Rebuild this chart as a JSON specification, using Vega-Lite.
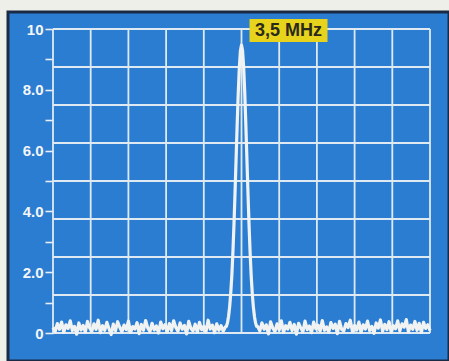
{
  "$schema": "https://vega.github.io/schema/vega-lite/v6.json",
  "autosize": "none",
  "width": 441,
  "height": 349,
  "padding": {"left": 8, "top": 12, "right": 0, "bottom": 0},
  "background": "#efefea",
  "config": {
    "view": {"fill": "#2b7dd1", "stroke": "#1b2a44", "strokeWidth": 3}
  },
  "datasets": {
    "vgrid": [{"x": 0, "y": 0, "y2": 10}, {"x": 0.7, "y": 0, "y2": 10}, {"x": 1.4, "y": 0, "y2": 10}, {"x": 2.1, "y": 0, "y2": 10}, {"x": 2.8, "y": 0, "y2": 10}, {"x": 3.5, "y": 0, "y2": 10}, {"x": 4.2, "y": 0, "y2": 10}, {"x": 4.9, "y": 0, "y2": 10}, {"x": 5.6, "y": 0, "y2": 10}, {"x": 6.3, "y": 0, "y2": 10}, {"x": 7, "y": 0, "y2": 10}],
    "hgrid": [{"y": 0, "x": 0, "x2": 7}, {"y": 1.25, "x": 0, "x2": 7}, {"y": 2.5, "x": 0, "x2": 7}, {"y": 3.75, "x": 0, "x2": 7}, {"y": 5, "x": 0, "x2": 7}, {"y": 6.25, "x": 0, "x2": 7}, {"y": 7.5, "x": 0, "x2": 7}, {"y": 8.75, "x": 0, "x2": 7}, {"y": 10, "x": 0, "x2": 7}],
    "label": [{"x": 3.5, "y": 10, "label": "3,5 MHz"}],
    "signal": [
      {"x": 0.00, "y": 0.18}, {"x": 0.04, "y": 0.05}, {"x": 0.08, "y": 0.31}, {"x": 0.12, "y": 0.12}, {"x": 0.16, "y": 0.36},
      {"x": 0.20, "y": 0.02}, {"x": 0.24, "y": 0.27}, {"x": 0.28, "y": 0.15}, {"x": 0.32, "y": 0.40}, {"x": 0.36, "y": 0.08},
      {"x": 0.40, "y": 0.22}, {"x": 0.44, "y": -0.04}, {"x": 0.48, "y": 0.33}, {"x": 0.52, "y": 0.10}, {"x": 0.56, "y": 0.25},
      {"x": 0.60, "y": 0.03}, {"x": 0.64, "y": 0.38}, {"x": 0.68, "y": 0.17}, {"x": 0.72, "y": 0.06}, {"x": 0.76, "y": 0.30},
      {"x": 0.80, "y": 0.12}, {"x": 0.84, "y": 0.42}, {"x": 0.88, "y": 0.01}, {"x": 0.92, "y": 0.24}, {"x": 0.96, "y": 0.09},
      {"x": 1.00, "y": 0.35}, {"x": 1.04, "y": 0.14}, {"x": 1.08, "y": -0.05}, {"x": 1.12, "y": 0.29}, {"x": 1.16, "y": 0.07},
      {"x": 1.20, "y": 0.37}, {"x": 1.24, "y": 0.19}, {"x": 1.28, "y": 0.04}, {"x": 1.32, "y": 0.26}, {"x": 1.36, "y": 0.11},
      {"x": 1.40, "y": 0.39}, {"x": 1.44, "y": 0.02}, {"x": 1.48, "y": 0.21}, {"x": 1.52, "y": 0.13}, {"x": 1.56, "y": 0.34},
      {"x": 1.60, "y": -0.02}, {"x": 1.64, "y": 0.28}, {"x": 1.68, "y": 0.09}, {"x": 1.72, "y": 0.41}, {"x": 1.76, "y": 0.16},
      {"x": 1.80, "y": 0.05}, {"x": 1.84, "y": 0.32}, {"x": 1.88, "y": 0.10}, {"x": 1.92, "y": 0.23}, {"x": 1.96, "y": 0.00},
      {"x": 2.00, "y": 0.36}, {"x": 2.04, "y": 0.14}, {"x": 2.08, "y": 0.27}, {"x": 2.12, "y": 0.03}, {"x": 2.16, "y": 0.31},
      {"x": 2.20, "y": 0.08}, {"x": 2.24, "y": 0.40}, {"x": 2.28, "y": 0.18}, {"x": 2.32, "y": 0.06}, {"x": 2.36, "y": 0.33},
      {"x": 2.40, "y": 0.12}, {"x": 2.44, "y": 0.25}, {"x": 2.48, "y": -0.03}, {"x": 2.52, "y": 0.38}, {"x": 2.56, "y": 0.15},
      {"x": 2.60, "y": 0.07}, {"x": 2.64, "y": 0.29}, {"x": 2.68, "y": 0.02}, {"x": 2.72, "y": 0.35}, {"x": 2.76, "y": 0.11},
      {"x": 2.80, "y": 0.22}, {"x": 2.84, "y": 0.04}, {"x": 2.88, "y": 0.42}, {"x": 2.92, "y": 0.13}, {"x": 2.96, "y": 0.26},
      {"x": 3.00, "y": 0.01}, {"x": 3.04, "y": 0.30}, {"x": 3.08, "y": 0.09}, {"x": 3.12, "y": 0.24}, {"x": 3.16, "y": 0.06},
      {"x": 3.20, "y": 0.20},
      {"x": 3.22, "y": 0.22}, {"x": 3.24, "y": 0.34}, {"x": 3.26, "y": 0.55}, {"x": 3.28, "y": 0.86}, {"x": 3.30, "y": 1.30},
      {"x": 3.32, "y": 1.88}, {"x": 3.34, "y": 2.64}, {"x": 3.36, "y": 3.56}, {"x": 3.38, "y": 4.62}, {"x": 3.40, "y": 5.75},
      {"x": 3.42, "y": 6.88}, {"x": 3.44, "y": 7.91}, {"x": 3.46, "y": 8.74}, {"x": 3.48, "y": 9.28}, {"x": 3.50, "y": 9.47},
      {"x": 3.52, "y": 9.28}, {"x": 3.54, "y": 8.74}, {"x": 3.56, "y": 7.91}, {"x": 3.58, "y": 6.88}, {"x": 3.60, "y": 5.75},
      {"x": 3.62, "y": 4.62}, {"x": 3.64, "y": 3.56}, {"x": 3.66, "y": 2.64}, {"x": 3.68, "y": 1.88}, {"x": 3.70, "y": 1.30},
      {"x": 3.72, "y": 0.86}, {"x": 3.74, "y": 0.55}, {"x": 3.76, "y": 0.34}, {"x": 3.78, "y": 0.22},
      {"x": 3.80, "y": 0.21}, {"x": 3.84, "y": 0.07}, {"x": 3.88, "y": 0.33}, {"x": 3.92, "y": 0.12}, {"x": 3.96, "y": 0.27},
      {"x": 4.00, "y": -0.03}, {"x": 4.04, "y": 0.37}, {"x": 4.08, "y": 0.16}, {"x": 4.12, "y": 0.05}, {"x": 4.16, "y": 0.30},
      {"x": 4.20, "y": 0.10}, {"x": 4.24, "y": 0.40}, {"x": 4.28, "y": 0.02}, {"x": 4.32, "y": 0.24}, {"x": 4.36, "y": 0.13},
      {"x": 4.40, "y": 0.35}, {"x": 4.44, "y": 0.08}, {"x": 4.48, "y": 0.28}, {"x": 4.52, "y": -0.04}, {"x": 4.56, "y": 0.32},
      {"x": 4.60, "y": 0.17}, {"x": 4.64, "y": 0.04}, {"x": 4.68, "y": 0.39}, {"x": 4.72, "y": 0.11}, {"x": 4.76, "y": 0.23},
      {"x": 4.80, "y": 0.01}, {"x": 4.84, "y": 0.36}, {"x": 4.88, "y": 0.14}, {"x": 4.92, "y": 0.26}, {"x": 4.96, "y": 0.06},
      {"x": 5.00, "y": 0.41}, {"x": 5.04, "y": 0.09}, {"x": 5.08, "y": 0.20}, {"x": 5.12, "y": 0.03}, {"x": 5.16, "y": 0.34},
      {"x": 5.20, "y": 0.15}, {"x": 5.24, "y": 0.29}, {"x": 5.28, "y": -0.02}, {"x": 5.32, "y": 0.38}, {"x": 5.36, "y": 0.12},
      {"x": 5.40, "y": 0.07}, {"x": 5.44, "y": 0.31}, {"x": 5.48, "y": 0.18}, {"x": 5.52, "y": 0.42}, {"x": 5.56, "y": 0.05},
      {"x": 5.60, "y": 0.25}, {"x": 5.64, "y": 0.10}, {"x": 5.68, "y": 0.36}, {"x": 5.72, "y": 0.02}, {"x": 5.76, "y": 0.27},
      {"x": 5.80, "y": 0.13}, {"x": 5.84, "y": 0.39}, {"x": 5.88, "y": 0.08}, {"x": 5.92, "y": 0.22}, {"x": 5.96, "y": -0.01},
      {"x": 6.00, "y": 0.33}, {"x": 6.04, "y": 0.16}, {"x": 6.08, "y": 0.43}, {"x": 6.12, "y": 0.06}, {"x": 6.16, "y": 0.28},
      {"x": 6.20, "y": 0.11}, {"x": 6.24, "y": 0.37}, {"x": 6.28, "y": 0.03}, {"x": 6.32, "y": 0.24}, {"x": 6.36, "y": 0.14},
      {"x": 6.40, "y": 0.40}, {"x": 6.44, "y": 0.07}, {"x": 6.48, "y": 0.30}, {"x": 6.52, "y": 0.19}, {"x": 6.56, "y": 0.44},
      {"x": 6.60, "y": 0.04}, {"x": 6.64, "y": 0.26}, {"x": 6.68, "y": 0.12}, {"x": 6.72, "y": 0.38}, {"x": 6.76, "y": 0.09},
      {"x": 6.80, "y": 0.32}, {"x": 6.84, "y": 0.02}, {"x": 6.88, "y": 0.35}, {"x": 6.92, "y": 0.15}, {"x": 6.96, "y": 0.27},
      {"x": 7.00, "y": 0.08}
    ]
  },
  "encoding": {
    "x": {"field": "x", "type": "quantitative", "scale": {"domain": [0, 7], "range": [45, 422], "nice": false, "zero": false}, "axis": null},
    "y": {
      "field": "y", "type": "quantitative",
      "scale": {"domain": [0, 10], "range": [321, 17], "nice": false, "zero": false},
      "axis": {
        "offset": -45, "title": null,
        "values": [0, 1, 2, 3, 4, 5, 6, 7, 8, 9, 10],
        "labelExpr": "datum.value == 0 ? '0' : datum.value == 10 ? '10' : (datum.value % 2 == 0 ? format(datum.value, '.1f') : '')",
        "domain": false, "grid": false,
        "tickSize": 8, "tickColor": "#e8eef3", "tickWidth": 1.6,
        "labelColor": "#f4f6f8", "labelFont": "Liberation Sans", "labelFontWeight": "bold", "labelFontSize": 15,
        "labelPadding": 2
      }
    }
  },
  "layer": [
    {
      "data": {"name": "vgrid"},
      "mark": {"type": "rule", "color": "#dfe9f2", "strokeWidth": 1.8},
      "encoding": {"y2": {"field": "y2"}}
    },
    {
      "data": {"name": "hgrid"},
      "mark": {"type": "rule", "color": "#dfe9f2", "strokeWidth": 1.8},
      "encoding": {"x2": {"field": "x2"}}
    },
    {
      "data": {"name": "signal"},
      "mark": {"type": "line", "color": "#f1f3f2", "strokeWidth": 3.2, "strokeJoin": "round"},
      "encoding": {}
    },
    {
      "data": {"name": "label"},
      "mark": {"type": "rect", "color": "#e7d21c", "xOffset": 8, "x2Offset": 86, "yOffset": -10, "y2Offset": 13},
      "encoding": {"x2": {"field": "x"}, "y2": {"field": "y"}}
    },
    {
      "data": {"name": "label"},
      "mark": {"type": "text", "font": "Liberation Sans", "fontWeight": "bold", "fontSize": 18, "color": "#2a2a1c", "align": "center", "baseline": "middle", "dx": 47, "dy": 2},
      "encoding": {"text": {"field": "label"}}
    }
  ]
}
